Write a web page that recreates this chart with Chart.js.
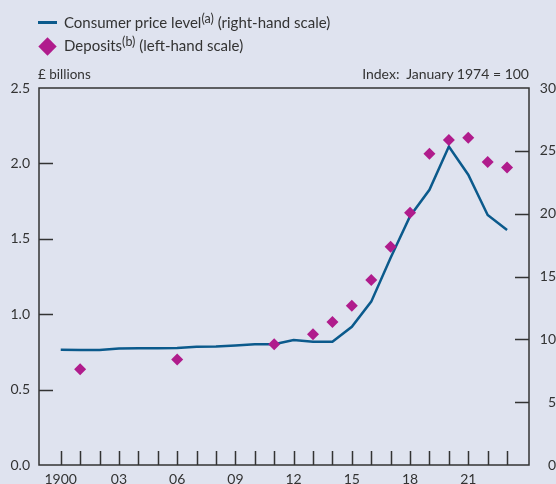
<!DOCTYPE html>
<html>
<head>
<meta charset="utf-8">
<script src="https://cdn.jsdelivr.net/npm/chart.js@4.4.1/dist/chart.umd.min.js"></script>
<style>
  html, body { margin: 0; padding: 0; background: #dfe3ef; overflow: hidden; }
  #wrap { position: relative; width: 556px; height: 484px; overflow: hidden; font-family: Lato, sans-serif; color: #333; }
  canvas { position: absolute; left: 0; top: 0; }
  .txt { position: absolute; white-space: nowrap; font-size: 15px; line-height: 1; }
  .txt sup { font-size: 12.5px; vertical-align: 0; position: relative; top: -5px; }
  .unit { font-size: 13.5px; }
  .key-line { position: absolute; left: 38px; top: 21px; width: 19px; height: 3px; background: #0b5a8c; }
  .key-diamond { position: absolute; left: 41px; top: 40px; width: 13px; height: 13px; background: #b01c8c; transform: rotate(45deg); }
</style>
</head>
<body>
<div id="wrap">
  <canvas id="chart" width="556" height="500"></canvas>
  <div class="key-line"></div>
  <div class="key-diamond"></div>
  <div class="txt" style="left:64px; top:15px">Consumer price level<sup>(a)</sup> (right-hand scale)</div>
  <div class="txt" style="left:64px; top:38px">Deposits<sup>(b)</sup> (left-hand scale)</div>
  <div class="txt unit" style="left:38px; top:68px">£ billions</div>
  <div class="txt unit" style="right:27px; top:67px; font-size:14px">Index:&nbsp; January 1974 = 100</div>
</div>
<script>
// consumer price level, index Jan 1974 = 100 (right-hand scale)
const cpiYears = [1900, 1901, 1902, 1903, 1904, 1905, 1906, 1907, 1908, 1909, 1910, 1911,
                  1912, 1913, 1914, 1915, 1916, 1917, 1918, 1919, 1920, 1921, 1922, 1923];
const cpiValues = [9.18, 9.16, 9.16, 9.28, 9.29, 9.3, 9.32, 9.41, 9.42, 9.5, 9.6, 9.61,
                   9.95, 9.8, 9.8, 11.0, 13.0, 16.5, 19.8, 21.9, 25.35, 23.1, 19.9, 18.7];

// deposits, £ billions (left-hand scale)
const depositYears = [1901, 1906, 1911, 1913, 1914, 1915, 1916, 1917, 1918, 1919, 1920, 1921, 1922, 1923];
const depositValues = [0.635, 0.70, 0.80, 0.867, 0.948, 1.056, 1.227, 1.448, 1.673, 2.064, 2.155, 2.17, 2.009, 1.973];

const tickYears = cpiYears;
const labelEvery = 3;

const lineColor = '#0b5a8c';
const diamondColor = '#b01c8c';
const axisColor = '#333';

Chart.defaults.font.family = 'Lato, sans-serif';
Chart.defaults.font.size = 14;
Chart.defaults.color = '#333';

// box round the plot and short tick marks pointing inwards
const frame = {
    id: 'frame',
    beforeDatasetsDraw(chart) {
        const { ctx, chartArea: a, scales } = chart;
        const len = 14;
        ctx.save();
        ctx.strokeStyle = axisColor;
        ctx.lineWidth = 1.5;
        ctx.strokeRect(a.left, a.top, a.right - a.left, a.bottom - a.top);
        ctx.beginPath();
        scales.x.ticks.forEach((t) => {
            const px = Math.round(scales.x.getPixelForValue(t.value)) + 0.5;
            ctx.moveTo(px, a.bottom);
            ctx.lineTo(px, a.bottom - len);
        });
        scales.yLeft.ticks.forEach((t) => {
            if (t.value <= 0 || t.value >= 2.5) return;
            const py = Math.round(scales.yLeft.getPixelForValue(t.value)) + 0.5;
            ctx.moveTo(a.left, py);
            ctx.lineTo(a.left + len, py);
        });
        scales.yRight.ticks.forEach((t) => {
            if (t.value <= 0 || t.value >= 30) return;
            const py = Math.round(scales.yRight.getPixelForValue(t.value)) + 0.5;
            ctx.moveTo(a.right, py);
            ctx.lineTo(a.right - len, py);
        });
        ctx.stroke();
        ctx.restore();
    },
};

const ctx = document.getElementById('chart').getContext('2d');
new Chart(ctx, {
    data: {
        datasets: [
            {
                type: 'scatter',
                label: 'Deposits',
                data: depositYears.map((x, i) => ({ x, y: depositValues[i] })),
                yAxisID: 'yLeft',
                pointStyle: 'rectRot',
                pointRadius: 6,
                pointBackgroundColor: diamondColor,
                pointBorderWidth: 0,
                order: 0,
            },
            {
                type: 'line',
                label: 'Consumer price level',
                data: cpiYears.map((x, i) => ({ x, y: cpiValues[i] })),
                yAxisID: 'yRight',
                borderColor: lineColor,
                borderWidth: 2.5,
                pointRadius: 0,
                tension: 0,
                order: 1,
            },
        ],
    },
    options: {
        responsive: false,
        animation: false,
        layout: { padding: { top: 88, left: 0, right: 0, bottom: 0 } },
        plugins: { legend: { display: false }, tooltip: { enabled: false } },
        scales: {
            x: {
                type: 'linear',
                min: 1898.88,
                max: 1924.13,
                afterBuildTicks: (scale) => {
                    scale.ticks = tickYears.map((v) => ({ value: v }));
                },
                afterFit: (scale) => { scale.height = 35; },
                grid: { display: false, drawTicks: false },
                border: { display: false },
                ticks: {
                    autoSkip: false,
                    maxRotation: 0,
                    padding: 6,
                    callback: (v) => {
                        if ((v - 1900) % labelEvery !== 0) return '';
                        return v === 1900 ? '1900' : String(v % 100).padStart(2, '0');
                    },
                },
            },
            yLeft: {
                position: 'left',
                min: 0,
                max: 2.5,
                afterFit: (scale) => { scale.width = 39; },
                grid: { display: false, drawTicks: false },
                border: { display: false },
                ticks: { stepSize: 0.5, padding: 9, callback: (v) => v.toFixed(1) },
            },
            yRight: {
                position: 'right',
                min: 0,
                max: 30,
                afterFit: (scale) => { scale.width = 27; },
                grid: { display: false, drawTicks: false },
                border: { display: false },
                ticks: { stepSize: 5, padding: 8, crossAlign: 'far' },
            },
        },
    },
    plugins: [frame],
});
</script>
</body>
</html>
